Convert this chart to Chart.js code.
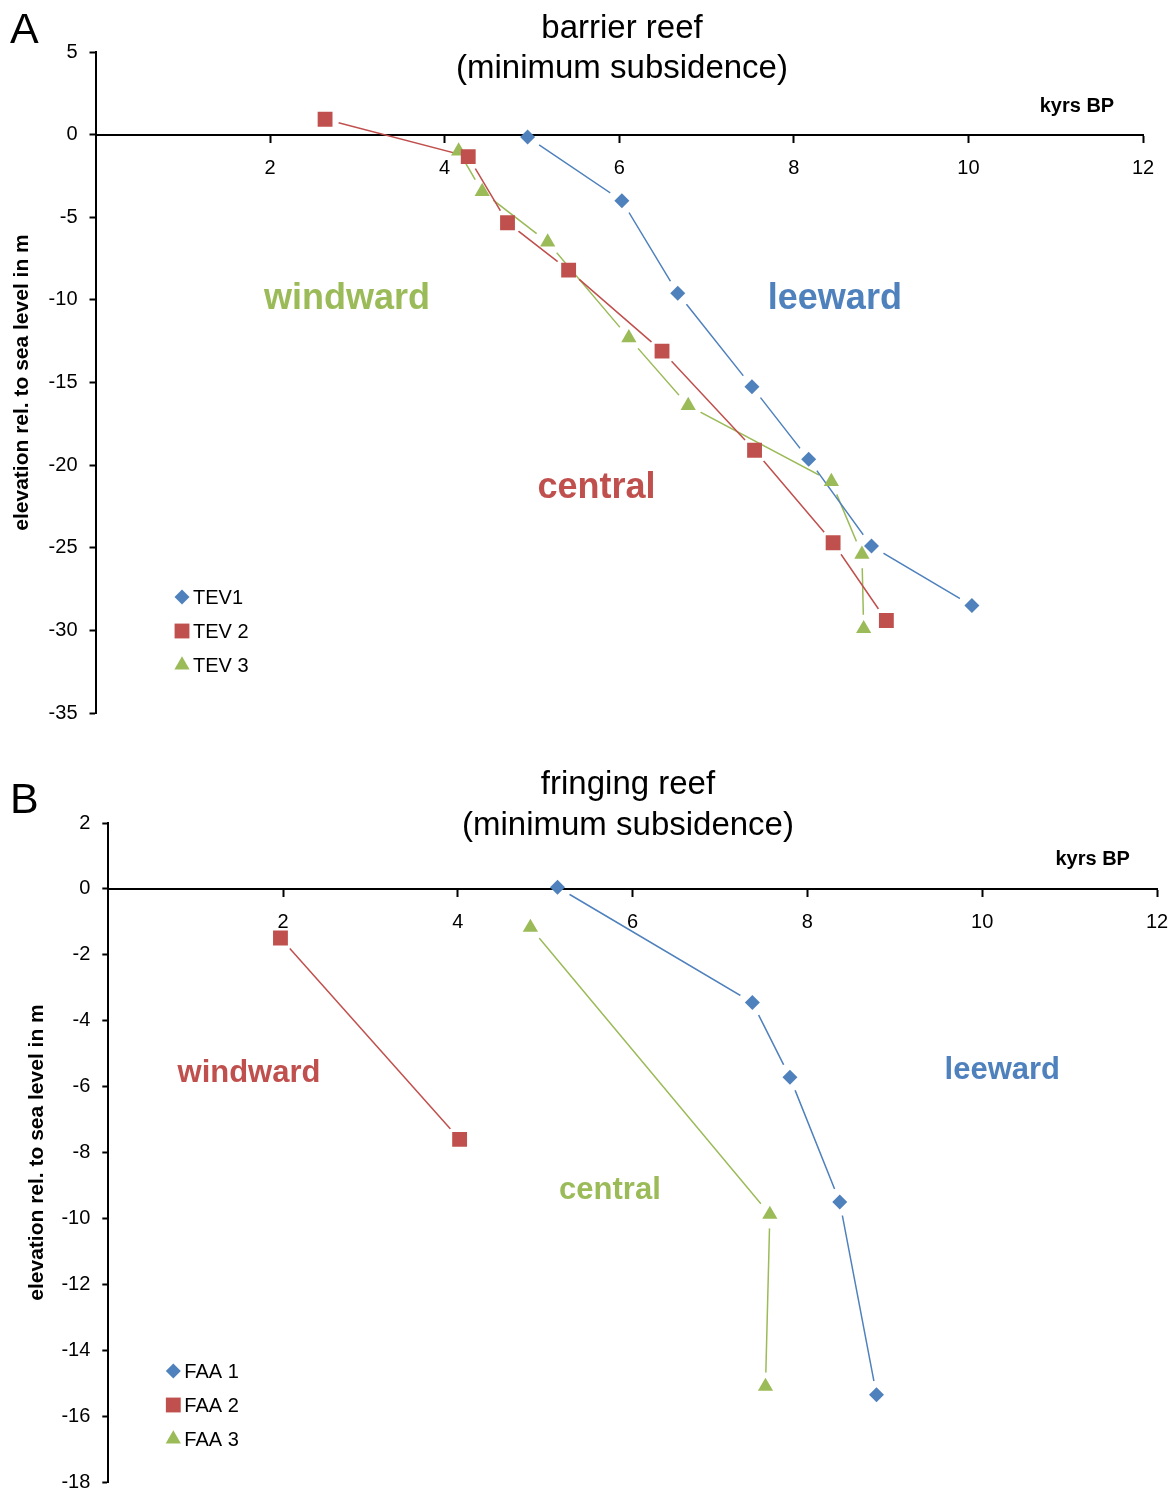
<!DOCTYPE html>
<html>
<head>
<meta charset="utf-8">
<script src="https://cdn.jsdelivr.net/npm/chart.js@4/dist/chart.umd.min.js"></script>
<style>
  html, body { margin: 0; padding: 0; background: #fff; overflow: hidden; }
  .panel { position: absolute; left: 0; }
  #panelA { top: 0; }
  #panelB { top: 745px; }
</style>
</head>
<body>
<div class="panel" id="panelA"><canvas id="chartA" width="1187" height="745"></canvas></div>
<div class="panel" id="panelB"><canvas id="chartB" width="1187" height="767"></canvas></div>
<script>
// --- A: barrier reef, age in kyrs BP vs elevation in m ---
const tev1Age  = [4.95, 6.03, 6.67, 7.52, 8.17, 8.89, 10.04];
const tev1Elev = [-0.15, -4.0, -9.6, -15.25, -19.65, -24.9, -28.5];
const tev2Age  = [2.63, 4.27, 4.72, 5.42, 6.49, 7.55, 8.45, 9.06];
const tev2Elev = [0.93, -1.33, -5.33, -8.2, -13.1, -19.1, -24.7, -29.4];
const tev3Age  = [4.16, 4.43, 5.18, 6.11, 6.79, 8.43, 8.78, 8.80];
const tev3Elev = [-1.0, -3.45, -6.5, -12.3, -16.4, -21.0, -25.4, -29.9];

// --- B: fringing reef ---
const faa1Age  = [5.14, 7.37, 7.80, 8.37, 8.79];
const faa1Elev = [0.05, -3.45, -5.72, -9.5, -15.35];
const faa2Age  = [1.97, 4.02];
const faa2Elev = [-1.49, -7.6];
const faa3Age  = [4.83, 7.57, 7.52];
const faa3Elev = [-1.17, -9.88, -15.1];

// tick labels
const ageTicks   = [2, 4, 6, 8, 10, 12];
const elevTicksA = [5, 0, -5, -10, -15, -20, -25, -30, -35];
const elevTicksB = [2, 0, -2, -4, -6, -8, -10, -12, -14, -16, -18];

const BLUE = "#4F81BD";
const RED = "#C0504D";
const GREEN = "#9BBB59";
const FONT = '"Liberation Sans", Arial, Helvetica, sans-serif';

Chart.defaults.font.family = FONT;
Chart.defaults.color = "#000";

const MARKERS = {
    diamond: { pointStyle: "rectRot", radius: 7.5 },
    square: { pointStyle: "rect", radius: 10.5 },
    triangle: { pointStyle: "triangle", radius: 8.8 },
};
const GAP = 14;

function toPoints(xs, ys) {
    return xs.map((x, i) => ({ x: x, y: ys[i] }));
}

// every series = a gapped line (under) + its markers (over)
function buildDatasets(series) {
    const sets = [];
    series.forEach(s => {
        const pts = toPoints(s.age, s.elev);
        sets.push({
            data: pts,
            showLine: true,
            borderColor: s.color,
            borderWidth: 1.5,
            pointRadius: 0,
            pointHoverRadius: 0,
            order: 2,
            gapLine: true,
        });
        sets.push({
            label: s.label,
            data: pts,
            showLine: false,
            pointStyle: MARKERS[s.marker].pointStyle,
            pointRadius: MARKERS[s.marker].radius,
            pointHoverRadius: MARKERS[s.marker].radius,
            pointBorderWidth: 0,
            backgroundColor: s.color,
            borderColor: s.color,
            order: 1,
        });
    });
    return sets;
}

// leave a white gap round each marker, like the original
const markerGap = {
    id: "markerGap",
    beforeDatasetDraw(chart, args) {
        const ds = chart.data.datasets[args.index];
        if (!ds.gapLine) return;
        const ctx = chart.ctx;
        ctx.save();
        ctx.beginPath();
        ctx.rect(0, 0, chart.width, chart.height);
        args.meta.data.forEach(p => {
            ctx.moveTo(p.x + GAP, p.y);
            ctx.arc(p.x, p.y, GAP, 0, Math.PI * 2);
        });
        ctx.clip("evenodd");
    },
    afterDatasetDraw(chart, args) {
        if (chart.data.datasets[args.index].gapLine) chart.ctx.restore();
    },
};

function drawMarker(ctx, marker, x, y) {
    const r = MARKERS[marker].radius;
    ctx.beginPath();
    if (marker === "diamond") {
        ctx.moveTo(x, y - r); ctx.lineTo(x + r, y); ctx.lineTo(x, y + r); ctx.lineTo(x - r, y);
    } else if (marker === "square") {
        const h = r * Math.SQRT1_2;
        ctx.rect(x - h, y - h, 2 * h, 2 * h);
    } else {
        ctx.moveTo(x, y - r);
        ctx.lineTo(x + r * Math.sqrt(3) / 2, y + r / 2);
        ctx.lineTo(x - r * Math.sqrt(3) / 2, y + r / 2);
    }
    ctx.closePath();
    ctx.fill();
}

// titles, panel letter, region labels, unit and legend
const decor = {
    id: "decor",
    afterDraw(chart, args, o) {
        const ctx = chart.ctx;
        const xs = chart.scales.x, ys = chart.scales.y;
        ctx.save();
        ctx.fillStyle = "#000";
        ctx.textAlign = "left";
        ctx.textBaseline = "alphabetic";
        ctx.font = "43px " + FONT;
        ctx.fillText(o.letter, o.letterX, o.letterY);

        ctx.textAlign = "center";
        ctx.textBaseline = "middle";
        ctx.font = "33px " + FONT;
        o.title.forEach((t, i) => ctx.fillText(t, o.titleX, o.titleY[i]));

        ctx.font = "bold 20px " + FONT;
        ctx.textAlign = "right";
        ctx.textBaseline = "alphabetic";
        ctx.fillText("kyrs BP", xs.getPixelForValue(o.unitAt[0]), ys.getPixelForValue(o.unitAt[1]));

        ctx.textAlign = "center";
        ctx.textBaseline = "middle";
        o.regions.forEach(r => {
            ctx.font = "bold " + o.regionSize + "px " + FONT;
            ctx.fillStyle = r.color;
            ctx.fillText(r.text, xs.getPixelForValue(r.x), ys.getPixelForValue(r.y) + 3);
        });

        ctx.font = "20px " + FONT;
        ctx.textAlign = "left";
        const lx = chart.chartArea.left + o.legend.dx;
        let ly = chart.chartArea.top + o.legend.dy;
        o.series.forEach(s => {
            ctx.fillStyle = s.color;
            drawMarker(ctx, s.marker, lx, ly);
            ctx.fillStyle = "#000";
            ctx.fillText(s.label, lx + 11, ly + 1);
            ly += 34;
        });
        ctx.restore();
    },
};

function makeChart(id, series, yMin, yMax, yTicks, yWidth, yTitlePad, padding, decorOpts) {
    decorOpts.series = series;
    return new Chart(document.getElementById(id), {
        type: "scatter",
        data: { datasets: buildDatasets(series) },
        options: {
            responsive: false,
            animation: false,
            events: [],
            layout: { padding: padding },
            plugins: {
                legend: { display: false },
                tooltip: { enabled: false },
                title: { display: false },
                decor: decorOpts,
            },
            scales: {
                x: {
                    type: "linear",
                    position: { y: 0 },
                    min: 0,
                    max: 12,
                    afterBuildTicks: s => { s.ticks = ageTicks.map(v => ({ value: v })); },
                    border: { color: "#000", width: 2 },
                    grid: { drawOnChartArea: false, tickLength: 7, tickColor: "#000", tickWidth: 2 },
                    ticks: { color: "#000", font: { size: 20 }, padding: 15, maxRotation: 0 },
                },
                y: {
                    type: "linear",
                    position: "left",
                    min: yMin,
                    max: yMax,
                    afterBuildTicks: s => { s.ticks = yTicks.map(v => ({ value: v })); },
                    afterFit: s => { s.width = yWidth; },
                    border: { color: "#000", width: 2 },
                    grid: { drawOnChartArea: false, tickLength: 6, tickColor: "#000", tickWidth: 2 },
                    ticks: { color: "#000", font: { size: 20 }, padding: 12 },
                    title: {
                        display: true,
                        text: "elevation rel. to sea level in m",
                        color: "#000",
                        font: { size: 21, weight: "bold" },
                        padding: { top: yTitlePad, bottom: 0 },
                    },
                },
            },
        },
        plugins: [markerGap, decor],
    });
}

document.addEventListener("DOMContentLoaded", function () {
    // --- Chart A: barrier reef ---
    makeChart("chartA", [
        { label: "TEV1", age: tev1Age, elev: tev1Elev, color: BLUE, marker: "diamond" },
        { label: "TEV 2", age: tev2Age, elev: tev2Elev, color: RED, marker: "square" },
        { label: "TEV 3", age: tev3Age, elev: tev3Elev, color: GREEN, marker: "triangle" },
    ], -35, 5, elevTicksA, 95.5, 10, { left: 0, right: 44, top: 52, bottom: 32 }, {
        letter: "A", letterX: 10, letterY: 43,
        title: ["barrier reef", "(minimum subsidence)"], titleX: 622, titleY: [29, 69],
        unitAt: [11.67, 1.38],
        regionSize: 36,
        regions: [
            { text: "windward", x: 2.88, y: -9.78, color: GREEN },
            { text: "leeward", x: 8.47, y: -9.78, color: BLUE },
            { text: "central", x: 5.74, y: -21.2, color: RED },
        ],
        legend: { dx: 86.5, dy: 545 },
    });

    // --- Chart B: fringing reef ---
    makeChart("chartB", [
        { label: "FAA 1", age: faa1Age, elev: faa1Elev, color: BLUE, marker: "diamond" },
        { label: "FAA 2", age: faa2Age, elev: faa2Elev, color: RED, marker: "square" },
        { label: "FAA 3", age: faa3Age, elev: faa3Elev, color: GREEN, marker: "triangle" },
    ], -18, 2, elevTicksB, 108.3, 25, { left: 0, right: 30, top: 78, bottom: 30 }, {
        letter: "B", letterX: 10, letterY: 68,
        title: ["fringing reef", "(minimum subsidence)"], titleX: 628, titleY: [40, 81],
        unitAt: [11.69, 0.73],
        regionSize: 31,
        regions: [
            { text: "windward", x: 1.61, y: -5.52, color: RED },
            { text: "leeward", x: 10.23, y: -5.42, color: BLUE },
            { text: "central", x: 5.74, y: -9.06, color: GREEN },
        ],
        legend: { dx: 65, dy: 548 },
    });
});
</script>
</body>
</html>
